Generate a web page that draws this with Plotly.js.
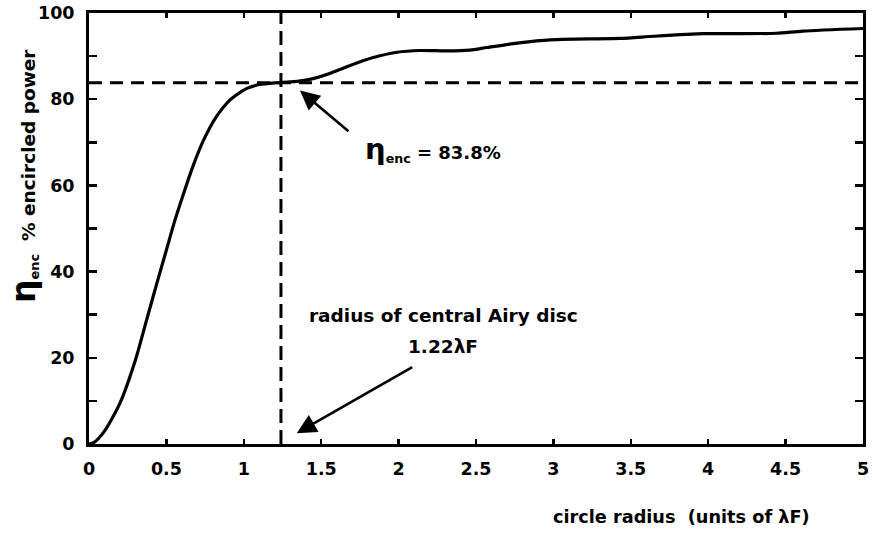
<!DOCTYPE html>
<html>
<head>
<meta charset="utf-8">
<script src="https://cdn.plot.ly/plotly-3.0.1.min.js"></script>
<style>html,body{margin:0;padding:0;background:#fff;}#chart{width:872px;height:535px;}</style>
</head>
<body>
<div id="chart"></div>
<script>
// Encircled power curve
const radius = [0, 0.03, 0.1, 0.2, 0.3, 0.37, 0.44, 0.5, 0.55, 0.61, 0.67, 0.74, 0.82, 0.91, 1.02, 1.1, 1.2, 1.3,
                1.38, 1.46, 1.55, 1.67, 1.82, 1.99, 2.14, 2.31, 2.46, 2.57, 2.74, 2.91, 3.06,
                3.43, 3.65, 3.97, 4.12, 4.44, 4.61, 5.0];
const power  = [0, 0.3, 3, 9.5, 19.5, 28.5, 37.5, 45, 51.3, 58, 64.3, 70.5, 75.8, 79.8, 82.5, 83.4, 83.8, 84,
                84.3, 84.9, 85.9, 87.6, 89.5, 90.9, 91.3, 91.2, 91.4, 92.0, 92.9, 93.6, 93.9,
                94.1, 94.6, 95.2, 95.2, 95.3, 95.8, 96.4];
const encValue = 83.8;      // η_enc level
const airyRadius = 1.24;    // dashed vertical line position (as drawn)
const xTicks = [0, 0.5, 1, 1.5, 2, 2.5, 3, 3.5, 4, 4.5, 5];
const xTickLabels = ['0', '0.5', '1', '1.5', '2', '2.5', '3', '3.5', '4', '4.5', '5'];
const yTicks = [0, 20, 40, 60, 80, 100];
const yTickLabels = ['0', '20', '40', '60', '80', '100'];

const FONT = 'DejaVu Sans, Liberation Sans, Arial, sans-serif';

const traces = [
  {x: radius, y: power, type: 'scatter', mode: 'lines', line: {color: '#000', width: 3.2, shape: 'spline', smoothing: 0.7}, hoverinfo: 'skip'},
  {x: [0, 5], y: [encValue, encValue], type: 'scatter', mode: 'lines', line: {color: '#000', width: 3, dash: '13px,8px'}, hoverinfo: 'skip'},
  {x: [airyRadius, airyRadius], y: [0, 100], type: 'scatter', mode: 'lines', line: {color: '#000', width: 3, dash: '14px,7px'}, hoverinfo: 'skip'}
];

const axisCommon = {
  showgrid: false, zeroline: false, showline: true, linecolor: '#000', linewidth: 3,
  mirror: 'ticks', ticks: 'inside', tickcolor: '#000', tickwidth: 2.5,
  tickfont: {family: FONT, size: 17.5, color: '#000', weight: 700}
};

const layout = {
  width: 872, height: 535,
  margin: {l: 89, r: 9, t: 13, b: 91},
  paper_bgcolor: '#fff', plot_bgcolor: '#fff',
  showlegend: false,
  xaxis: Object.assign({}, axisCommon, {
    range: [0, 5], tickmode: 'array', tickvals: xTicks, ticktext: xTickLabels,
    ticklen: 5, ticklabelstandoff: 7
  }),
  yaxis: Object.assign({}, axisCommon, {
    range: [0, 100], tickmode: 'array', tickvals: yTicks, ticktext: yTickLabels,
    ticklen: 8, ticklabelstandoff: 8,
    minor: {dtick: 10, tick0: 0, ticks: 'inside', ticklen: 8, tickwidth: 2.5, tickcolor: '#000'}
  }),
  annotations: [
    {xref: 'paper', yref: 'paper', x: 0, y: 0, xshift: -66, yshift: 268, textangle: -90,
     showarrow: false, xanchor: 'center', yanchor: 'middle',
     text: '<span style="font-size:33px">η</span><sub>enc</sub>  % encircled power',
     font: {family: FONT, size: 18.5, color: '#000', weight: 700}},
    {xref: 'paper', yref: 'paper', x: 0, y: 0, xshift: 592, yshift: -73,
     showarrow: false, xanchor: 'center', yanchor: 'middle',
     text: 'circle radius  (units of λF)',
     font: {family: FONT, size: 17.7, color: '#000', weight: 700}},
    {xref: 'x', yref: 'y', x: 2.22, y: 68.4, showarrow: false, xanchor: 'center', yanchor: 'middle',
     text: '<span style="font-size:29px">η</span><sub>enc</sub> = 83.8%',
     font: {family: FONT, size: 18, color: '#000', weight: 700}},
    {xref: 'x', yref: 'y', x: 2.29, y: 29.8, showarrow: false, xanchor: 'center', yanchor: 'middle',
     text: 'radius of central Airy disc',
     font: {family: FONT, size: 18.5, color: '#000', weight: 700}},
    {xref: 'x', yref: 'y', x: 2.29, y: 22.6, showarrow: false, xanchor: 'center', yanchor: 'middle',
     text: '1.22λF',
     font: {family: FONT, size: 18.5, color: '#000', weight: 700}},
    {xref: 'x', yref: 'y', x: 1.363, y: 82.0, text: '', showarrow: true, ax: 50, ay: 42,
     arrowhead: 2, arrowsize: 1.5, arrowwidth: 2.6, arrowcolor: '#000', standoff: 0, startstandoff: 0},
    {xref: 'x', yref: 'y', x: 1.342, y: 2.5, text: '', showarrow: true, ax: 117, ay: -67,
     arrowhead: 2, arrowsize: 1.5, arrowwidth: 2.6, arrowcolor: '#000', standoff: 0, startstandoff: 0}
  ]
};

Plotly.newPlot('chart', traces, layout, {displayModeBar: false, staticPlot: true});
</script>
</body>
</html>
